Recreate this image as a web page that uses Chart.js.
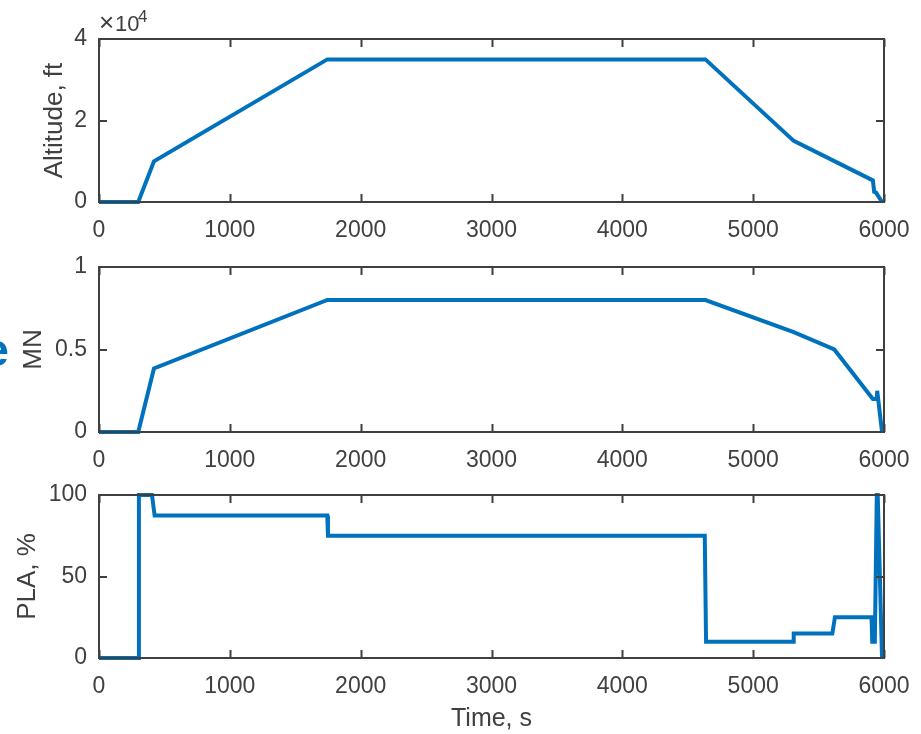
<!DOCTYPE html>
<html>
<head>
<meta charset="utf-8">
<script src="https://cdn.jsdelivr.net/npm/chart.js@4"></script>
<style>
  body { margin: 0; background: #fff; }
  #wrap { position: relative; width: 921px; height: 734px; overflow: hidden; }
  canvas { position: absolute; left: 0; }
</style>
</head>
<body>
<div id="wrap">
  <canvas id="alt" width="921" height="255" style="top:0px"></canvas>
  <canvas id="mn" width="921" height="243" style="top:240px"></canvas>
  <canvas id="pla" width="921" height="266" style="top:468px"></canvas>
</div>
<script>
// altitude profile
const altTime = [0, 300, 420, 1745, 4635, 5310, 5915, 5925, 5940, 5955, 5985]
const altitude = [0, 0, 10000, 35000, 35000, 15000, 5300, 2500, 2300, 1500, 0]

// mach number
const mnTime = [0, 300, 420, 1745, 4635, 5310, 5620, 5915, 5945, 5948, 5985]
const machNumber = [0, 0, 0.385, 0.8, 0.8, 0.605, 0.5, 0.2, 0.2, 0.25, 0]

// power lever angle
const plaTime = [0, 300, 305, 405, 425, 1745, 1750, 4630, 4640, 5305, 5310, 5605, 5625, 5905, 5910, 5930, 5945, 5952, 5985]
const pla = [0, 0, 100, 100, 87.5, 87.5, 75, 75, 10, 10, 15, 15, 25, 25, 10, 10, 100, 100, 0]

const timeTicks = [0, 1000, 2000, 3000, 4000, 5000, 6000]

const BLUE = '#0072BD'
const AXIS = '#404040'
const FONT = "'Liberation Sans', Arial, sans-serif"

Chart.defaults.font.family = FONT
Chart.defaults.color = AXIS

const CHART_LEFT = 99
const CHART_RIGHT = 884

// draws the matlab-like box with inward ticks on all four sides
const boxPlugin = {
    id: 'box',
    afterDraw(chart) {
        const { ctx, chartArea: a, scales } = chart
        const len = 8
        ctx.save()
        ctx.strokeStyle = AXIS
        ctx.lineWidth = 2
        ctx.beginPath()
        scales.x.ticks.forEach(t => {
            const px = Math.round(scales.x.getPixelForValue(t.value)) + 0.5
            ctx.moveTo(px, a.bottom); ctx.lineTo(px, a.bottom - len)
            ctx.moveTo(px, a.top); ctx.lineTo(px, a.top + len)
        })
        scales.y.ticks.forEach(t => {
            const py = Math.round(scales.y.getPixelForValue(t.value))
            ctx.moveTo(a.left, py); ctx.lineTo(a.left + len, py)
            ctx.moveTo(a.right, py); ctx.lineTo(a.right - len, py)
        })
        ctx.stroke()
        ctx.strokeRect(a.left, a.top, a.right - a.left, a.bottom - a.top)
        ctx.restore()
    }
}

function makeChart(id, xs, ys, cfg) {
    const data = xs.map((x, i) => ({ x: x, y: ys[i] }))
    return new Chart(document.getElementById(id), {
        type: 'line',
        data: {
            datasets: [{
                data: data,
                borderColor: BLUE,
                borderWidth: 4,
                pointRadius: 0,
                tension: 0,
                clip: false
            }]
        },
        options: {
            responsive: false,
            animation: false,
            events: [],
            layout: { padding: { left: 0, right: 921 - CHART_RIGHT, top: cfg.top, bottom: 0 } },
            plugins: { legend: { display: false }, tooltip: { enabled: false } },
            scales: {
                x: {
                    type: 'linear',
                    min: 0,
                    max: 6000,
                    afterBuildTicks: s => { s.ticks = timeTicks.map(v => ({ value: v })) },
                    grid: { display: false, drawTicks: false },
                    border: { display: false },
                    ticks: {
                        font: { size: 23 },
                        color: AXIS,
                        padding: 15,
                        maxRotation: 0,
                        callback: v => String(v)
                    },
                    title: cfg.xTitle ? {
                        display: true,
                        text: cfg.xTitle,
                        font: { size: 25 },
                        color: AXIS,
                        padding: { top: 0, bottom: 0 }
                    } : { display: false },
                    afterFit: s => {
                        s.height = cfg.xHeight
                        s.paddingLeft = 0
                        s.paddingRight = 0
                    }
                },
                y: {
                    min: cfg.yMin,
                    max: cfg.yMax,
                    afterBuildTicks: s => { s.ticks = cfg.yTicks.map(v => ({ value: v })) },
                    grid: { display: false, drawTicks: false },
                    border: { display: false },
                    ticks: {
                        font: { size: 23 },
                        color: AXIS,
                        padding: 12,
                        callback: cfg.yFormat
                    },
                    title: {
                        display: true,
                        text: cfg.yTitle,
                        font: { size: 26 },
                        color: AXIS,
                        padding: { top: cfg.yTitlePad, bottom: 0 }
                    },
                    afterFit: s => { s.width = CHART_LEFT }
                }
            }
        },
        plugins: [boxPlugin].concat(cfg.extra || [])
    })
}

// exponent label above the altitude axis
const exponentPlugin = {
    id: 'exponent',
    afterDraw(chart) {
        const ctx = chart.ctx
        ctx.save()
        ctx.fillStyle = AXIS
        ctx.textBaseline = 'alphabetic'
        ctx.font = '26px ' + FONT
        ctx.fillText('\u00d7', 99, 31)
        ctx.font = '22px ' + FONT
        ctx.fillText('10', 115, 31)
        ctx.font = '17px ' + FONT
        ctx.fillText('4', 138, 22)
        ctx.restore()
    }
}

// cut off blue letter at the left edge
const letterPlugin = {
    id: 'letter',
    afterDraw(chart) {
        const ctx = chart.ctx
        ctx.save()
        ctx.fillStyle = BLUE
        ctx.font = 'bold 47px ' + FONT
        ctx.textAlign = 'right'
        ctx.textBaseline = 'alphabetic'
        ctx.fillText('e', 9, 126)
        ctx.restore()
    }
}

makeChart('alt', altTime, altitude, {
    top: 39, xHeight: 255 - 202,
    yMin: 0, yMax: 40000, yTicks: [0, 20000, 40000],
    yFormat: v => String(v / 10000),
    yTitle: 'Altitude, ft', yTitlePad: 39,
    extra: [exponentPlugin]
})

makeChart('mn', mnTime, machNumber, {
    top: 27, xHeight: 243 - (432 - 240),
    yMin: 0, yMax: 1, yTicks: [0, 0.5, 1],
    yFormat: v => String(v),
    yTitle: 'MN', yTitlePad: 18,
    extra: [letterPlugin]
})

makeChart('pla', plaTime, pla, {
    top: 27, xHeight: 266 - (658 - 468),
    yMin: 0, yMax: 100, yTicks: [0, 50, 100],
    yFormat: v => String(v),
    yTitle: 'PLA, %', yTitlePad: 12,
    xTitle: 'Time, s'
})
</script>
</body>
</html>
